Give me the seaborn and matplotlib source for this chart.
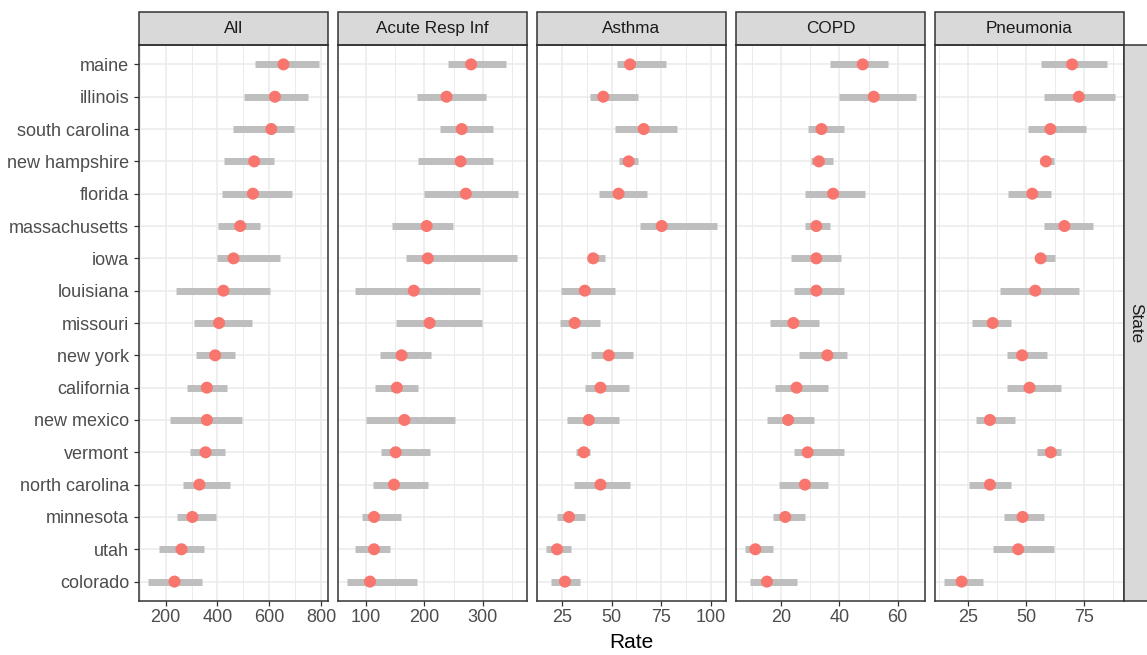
import numpy as np
import pandas as pd
import matplotlib
matplotlib.use("Agg")
import matplotlib.pyplot as plt
import seaborn as sns
from matplotlib.patches import Rectangle
from matplotlib.ticker import MultipleLocator

states = ["maine", "illinois", "south carolina", "new hampshire", "florida",
          "massachusetts", "iowa", "louisiana", "missouri", "new york",
          "california", "new mexico", "vermont", "north carolina", "minnesota",
          "utah", "colorado"]
causes = ["All", "Acute Resp Inf", "Asthma", "COPD", "Pneumonia"]

all_rate = [655, 622, 608, 542, 537, 488, 462, 423, 406, 391, 359, 359, 354, 330, 303, 261, 234]
all_lo = [545, 501, 462, 425, 419, 403, 397, 240, 311, 316, 284, 217, 294, 267, 245, 176, 130]
all_hi = [794, 748, 694, 619, 690, 565, 640, 603, 532, 467, 435, 494, 430, 450, 396, 347, 342]

ari_rate = [280, 238, 264, 262, 271, 204, 206, 182, 209, 161, 153, 166, 151, 148, 114, 114, 107]
ari_lo = [241, 187, 226, 190, 199, 144, 168, 81, 151, 124, 115, 100, 126, 113, 93, 81, 67]
ari_hi = [339, 306, 317, 317, 361, 249, 358, 295, 298, 212, 190, 252, 209, 207, 160, 141, 187]

ast_rate = [59.3, 45.8, 66.2, 58.6, 53.5, 75.3, 40.7, 36.5, 31.4, 48.6, 44.4, 38.5, 36.0, 44.4, 28.5, 22.5, 26.5]
ast_lo = [52.9, 38.9, 51.5, 53.7, 43.8, 64.4, 38.2, 24.7, 23.8, 39.4, 36.5, 27.4, 31.8, 30.9, 22.3, 16.7, 19.6]
ast_hi = [77.7, 63.5, 82.8, 63.5, 67.7, 103.4, 46.5, 51.5, 44.3, 60.6, 58.6, 53.5, 39.2, 59.3, 36.5, 29.4, 34.3]

copd_rate = [48.0, 51.8, 33.8, 32.9, 37.8, 32.0, 32.0, 32.0, 24.1, 35.8, 25.2, 22.3, 29.0, 28.1, 21.3, 11.0, 15.0]
copd_lo = [36.9, 39.9, 29.1, 30.1, 28.2, 28.2, 23.2, 24.3, 16.0, 26.1, 17.9, 15.0, 24.3, 19.0, 17.0, 7.3, 9.3]
copd_hi = [56.7, 66.5, 41.7, 37.8, 48.9, 36.8, 40.6, 41.7, 32.9, 42.7, 35.9, 31.1, 41.7, 35.9, 28.2, 17.0, 25.2]

pn_rate = [69.9, 72.8, 60.5, 58.6, 52.7, 66.6, 56.3, 54.0, 35.6, 48.3, 51.5, 34.4, 60.7, 34.4, 48.5, 46.6, 22.2]
pn_lo = [56.4, 57.6, 50.9, 56.0, 42.4, 57.6, 54.3, 38.8, 26.6, 41.8, 41.8, 28.3, 54.6, 25.4, 40.7, 35.7, 14.4]
pn_hi = [85.0, 88.6, 76.0, 62.0, 60.7, 79.1, 62.5, 72.8, 43.6, 58.9, 65.0, 45.4, 65.0, 43.7, 57.8, 62.0, 31.5]

tick_steps = [200, 100, 25, 20, 25]

series = {
    "All": (all_rate, all_lo, all_hi),
    "Acute Resp Inf": (ari_rate, ari_lo, ari_hi),
    "Asthma": (ast_rate, ast_lo, ast_hi),
    "COPD": (copd_rate, copd_lo, copd_hi),
    "Pneumonia": (pn_rate, pn_lo, pn_hi),
}
frames = []
for c in causes:
    r, lo, hi = series[c]
    frames.append(pd.DataFrame({"state": states, "cause": c, "rate": r, "lo": lo, "hi": hi}))
df = pd.concat(frames, ignore_index=True)

sns.set_style("white")
plt.rcParams["font.family"] = ["Liberation Sans", "DejaVu Sans"]

W, H = 1147, 655
g = sns.FacetGrid(df, col="cause", col_order=causes, sharex=False, sharey=True,
                  height=6.0, aspect=0.4, despine=False)


def draw(data, **kw):
    ax = plt.gca()
    ax.hlines(data["state"], data["lo"], data["hi"], color="#BEBEBE", lw=5.0,
              zorder=2, capstyle="butt")
    sns.scatterplot(data=data, x="rate", y="state", color="#F8766D", s=75,
                    edgecolor="none", linewidth=0, ax=ax, zorder=3)


g.map_dataframe(draw)
fig = g.figure
fig.set_size_inches(W / 100, H / 100)
left, right, top, bottom = 139 / W, 1124 / W, 1 - 45 / H, 1 - 601 / H
fig.subplots_adjust(left=left, right=right, top=top, bottom=bottom, wspace=10 / 189)

strip_h = 33 / 556
for i, (ax, c) in enumerate(zip(g.axes.flat, causes)):
    sub = df[df["cause"] == c]
    lo, hi = sub["lo"].min(), sub["hi"].max()
    pad = (hi - lo) * 0.05
    ax.set_xlim(lo - pad, hi + pad)
    ax.xaxis.set_major_locator(MultipleLocator(tick_steps[i]))
    ax.xaxis.set_minor_locator(MultipleLocator(tick_steps[i] / 2))
    ax.set_ylim(len(states) - 0.4, -0.6)
    ax.set_axisbelow(True)
    ax.grid(which="major", color="#EBEBEB", lw=1.1)
    ax.grid(which="minor", axis="x", color="#EBEBEB", lw=0.7)
    for s in ax.spines.values():
        s.set_color("#333333")
        s.set_linewidth(1.1)
    ax.tick_params(axis="x", which="major", length=3.5, width=0.9, color="#333333",
                   labelsize=13, labelcolor="#4D4D4D", pad=2.5, bottom=True)
    ax.tick_params(axis="x", which="minor", length=0)
    if i == 0:
        ax.tick_params(axis="y", length=3.5, width=0.9, color="#333333",
                       labelsize=13, labelcolor="#4D4D4D", pad=3.5, left=True)
    else:
        ax.tick_params(axis="y", length=0, labelleft=False)
    ax.set_title("")
    ax.set_ylabel("")
    ax.set_xlabel("Rate" if i == 2 else "", fontsize=15, color="black", labelpad=5)
    rect = Rectangle((0, 1), 1, strip_h, transform=ax.transAxes, clip_on=False,
                     facecolor="#D9D9D9", edgecolor="#333333", lw=1.1)
    ax.add_patch(rect)
    ax.text(0.5, 1 + strip_h / 2, c, transform=ax.transAxes, ha="center",
            va="center", fontsize=12.3, color="#1A1A1A")

fig.patches.append(Rectangle((right, bottom), 1.0 - right + 0.01, top - bottom,
                             transform=fig.transFigure, facecolor="#D9D9D9",
                             edgecolor="#333333", lw=1.1, figure=fig))
fig.text((right + 1.0) / 2, (top + bottom) / 2, "State", rotation=-90,
         ha="center", va="center", fontsize=12.3, color="#1A1A1A")

fig.savefig("out.png", dpi=100)
